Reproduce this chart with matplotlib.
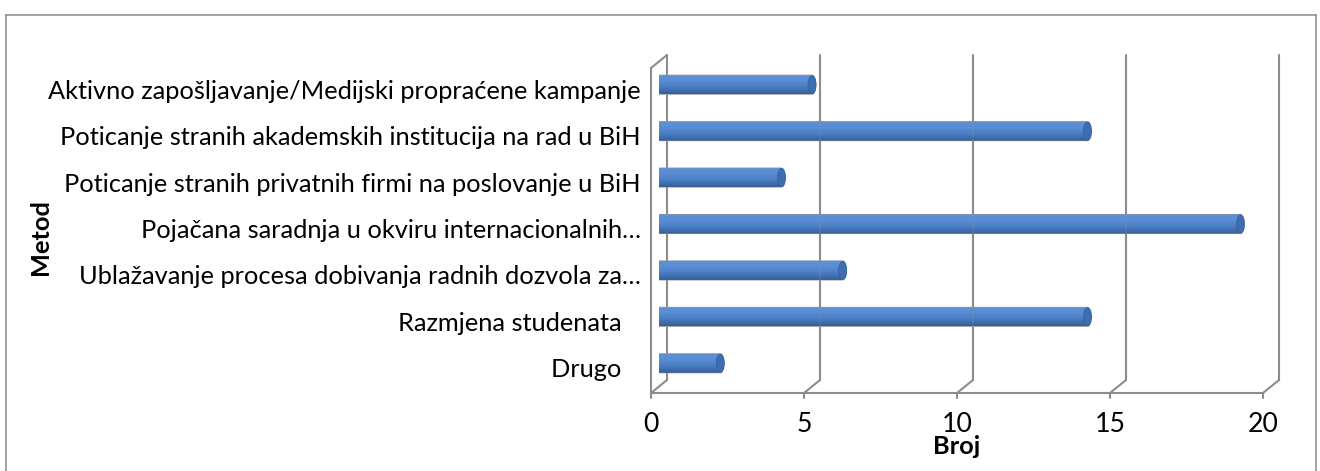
import numpy as np
import matplotlib
matplotlib.use('Agg')
import matplotlib.pyplot as plt
from matplotlib.transforms import ScaledTranslation, IdentityTransform
from matplotlib.path import Path
from matplotlib.patches import PathPatch, Ellipse
from matplotlib.colors import LinearSegmentedColormap
from matplotlib.lines import Line2D

# ---------------- data ----------------
categories = [
    "Aktivno zapošljavanje/Medijski propraćene kampanje",
    "Poticanje stranih akademskih institucija na rad u BiH",
    "Poticanje stranih privatnih firmi na poslovanje u BiH",
    "Pojačana saradnja u okviru internacionalnih…",
    "Ublažavanje procesa dobivanja radnih dozvola za…",
    "Razmjena studenata   ",
    "Drugo   ",
]
values = [5, 14, 4, 19, 6, 14, 2]
x_ticks = [0, 5, 10, 15, 20]
x_title = "Broj"
y_title = "Metod"

# ---------------- style ----------------
plt.rcParams['font.family'] = ['Lato', 'DejaVu Sans']
W, H, DPI = 1320, 471, 100
GRID = '#8c8c8c'
fig = plt.figure(figsize=(W / DPI, H / DPI), dpi=DPI)
fig.patch.set_facecolor('white')

# figure border
for (xa, ya, xb, yb) in [(6, 15, 1316, 15), (6, 15, 6, 480), (1316, 15, 1316, 480)]:
    fig.add_artist(Line2D([xa / W, xb / W], [1 - ya / H, 1 - yb / H],
                          transform=fig.transFigure, color='#898989', lw=1.1))

# mid-depth plane of the 3D box
x0p, x1p = 659, 1271
ytop, ybot = 61.5, 386.5
ax = fig.add_axes([x0p / W, 1 - ybot / H, (x1p - x0p) / W, (ybot - ytop) / H])
n = len(categories)
xmin, xmax = x_ticks[0], x_ticks[-1]
ax.set_xlim(xmin, xmax)
ax.set_ylim(-0.5, n - 0.5)
ax.axis('off')

def shifted(dx, dy):
    return ax.transData + ScaledTranslation(dx / DPI, dy / DPI, fig.dpi_scale_trans)

DX, DY = 8, 6.5
front = shifted(-DX, -DY)
back = shifted(DX, DY)
ident = IdentityTransform()

def seg(p, q, **kw):
    kw.setdefault('color', GRID)
    kw.setdefault('lw', 1.5)
    ax.add_line(Line2D([p[0], q[0]], [p[1], q[1]], transform=ident,
                       clip_on=False, solid_capstyle='round', **kw))

yb_, yt_ = -0.5, n - 0.5
# back wall gridlines
for t in x_ticks:
    seg(back.transform((t, yb_)), back.transform((t, yt_)), zorder=1)
# left wall
seg(front.transform((xmin, yb_)), front.transform((xmin, yt_)), zorder=1)
seg(front.transform((xmin, yt_)), back.transform((xmin, yt_)), zorder=1)
# floor
seg(front.transform((xmin, yb_)), front.transform((xmax, yb_)), zorder=1)
for t in x_ticks:
    seg(front.transform((t, yb_)), back.transform((t, yb_)), zorder=1)
    p = front.transform((t, yb_))
    seg(p, (p[0], p[1] - 5), zorder=1)

# scale factors (display px per data unit)
o = ax.transData.transform((0, 0))
sx = ax.transData.transform((1, 0))[0] - o[0]

cmap = LinearSegmentedColormap.from_list('cyl', [
    (0.0, '#6a86ad'), (0.07, '#5d90d6'), (0.3, '#5a8ed5'),
    (0.6, '#4c80c6'), (0.85, '#3d6bac'), (1.0, '#3a5b88')])
grad = np.linspace(0, 1, 256).reshape(-1, 1)
h = 0.41
capx = 4 / sx
for i, (cat, v) in enumerate(zip(categories, values)):
    y = n - 1 - i
    th1 = np.linspace(np.pi / 2, 3 * np.pi / 2, 30)
    th2 = np.linspace(-np.pi / 2, np.pi / 2, 30)
    xs = np.concatenate([capx * np.cos(th1), v + capx * np.cos(th2)])
    ys = np.concatenate([y + h / 2 * np.sin(th1), y + h / 2 * np.sin(th2)])
    verts = np.column_stack([xs, ys])
    verts = np.vstack([verts, verts[:1]])
    # soft gray outline
    ax.add_patch(PathPatch(Path(verts), facecolor='none', edgecolor='#9aa3ad',
                           lw=0.8, transform=ax.transData, zorder=2.9))
    patch = PathPatch(Path(verts), facecolor='none', edgecolor='none',
                      transform=ax.transData, zorder=3)
    ax.add_patch(patch)
    im = ax.imshow(grad, cmap=cmap, aspect='auto', origin='upper',
                   extent=(-capx, v + capx, y - h / 2, y + h / 2),
                   interpolation='bicubic', zorder=3)
    im.set_clip_path(patch)
    ax.add_patch(Ellipse((v, y), 2 * capx, h * 0.96, facecolor='#3f6db0',
                         edgecolor='#34609e', lw=0.5, zorder=4))

# faint gridlines showing through bars
for t in x_ticks[1:]:
    seg(back.transform((t, yb_)), back.transform((t, yt_)), zorder=5, alpha=0.25)

ax.set_xlim(xmin, xmax)
ax.set_ylim(-0.5, n - 0.5)

# category labels
lab_tr = shifted(-DX - 10, -DY)
texts = []
for i, cat in enumerate(categories):
    y = n - 1 - i
    texts.append(ax.text(xmin, y, cat, transform=lab_tr, ha='right', va='center',
                         fontsize=15, color='black'))
r = fig.canvas.get_renderer()
w0 = texts[0].get_window_extent(r).width
fs = 15 * 594 / w0
for t in texts:
    t.set_fontsize(fs)

# tick labels
tick_tr = shifted(-DX, -DY - 32)
for t in x_ticks:
    ax.text(t, yb_, str(t), transform=tick_tr, ha='center', va='center',
            fontsize=fs * 1.05, color='black')

fig.text(957 / W, 1 - 447 / H, x_title, ha='center', va='center',
         fontsize=fs, fontweight='bold')
fig.text(40 / W, 1 - 237 / H, y_title, ha='center', va='center',
         fontsize=fs, fontweight='bold', rotation=90)

fig.savefig('out.png', dpi=DPI)
